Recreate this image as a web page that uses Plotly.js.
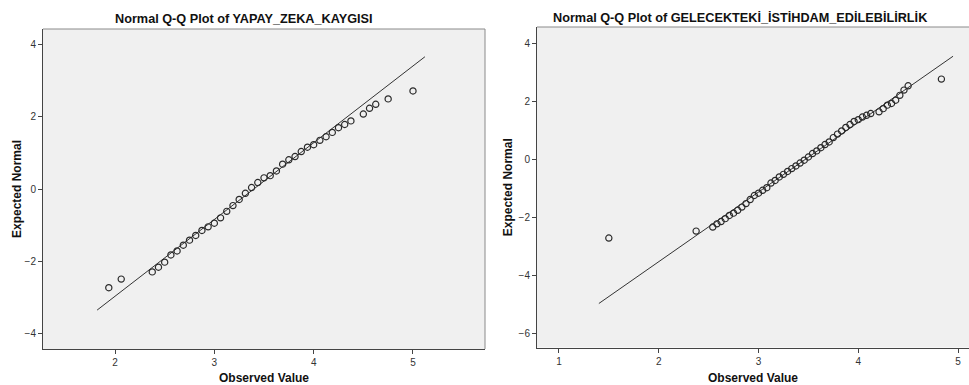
<!DOCTYPE html>
<html>
<head>
<meta charset="utf-8">
<script src="https://cdn.plot.ly/plotly-3.0.1.min.js"></script>
<style>html,body{margin:0;padding:0;background:#fff;}#chart{width:969px;height:385px;}</style>
</head>
<body>
<div id="chart"></div>
<script>
// Left panel: YAPAY_ZEKA_KAYGISI (observed values in sixteenths)
const leftObserved16 = [31,33,38,39,40,41,42,43,44,45,46,47,48,49,50,51,52,53,54,55,56,57,58,59,60,61,62,63,64,65,66,67,68,69,70,72,73,74,76,80];
const leftExpected = [-2.74,-2.50,-2.30,-2.17,-2.03,-1.83,-1.72,-1.56,-1.42,-1.29,-1.15,-1.05,-0.95,-0.80,-0.62,-0.46,-0.29,-0.12,0.04,0.18,0.31,0.37,0.50,0.69,0.81,0.90,1.04,1.16,1.23,1.35,1.45,1.57,1.70,1.79,1.89,2.08,2.24,2.35,2.50,2.72];
const leftLineX = [1.82, 5.12];
const leftLineY = [-3.36, 3.67];

// Right panel: GELECEKTEKİ_İSTİHDAM_EDİLEBİLİRLİK (observed values in 24ths)
const rightObserved24 = [36,57,61,62,63,64,65,66,67,68,69,70,71,72,73,74,75,76,77,78,79,80,81,82,83,84,85,86,87,88,89,90,91,92,93,94,95,96,97,98,99,101,102,103,104,105,106,107,108,116];
const rightExpected = [-2.72,-2.48,-2.34,-2.23,-2.15,-2.05,-1.94,-1.86,-1.76,-1.65,-1.53,-1.39,-1.25,-1.17,-1.07,-0.98,-0.82,-0.73,-0.61,-0.52,-0.42,-0.32,-0.23,-0.13,-0.03,0.08,0.20,0.29,0.40,0.51,0.60,0.75,0.87,0.98,1.10,1.20,1.31,1.37,1.46,1.52,1.58,1.64,1.75,1.87,1.93,2.04,2.21,2.39,2.54,2.77];
const rightLineX = [1.40, 4.95];
const rightLineY = [-4.98, 3.56];

const leftXTicks = [2,3,4,5];
const leftYTicks = [-4,-2,0,2,4];
const rightXTicks = [1,2,3,4,5];
const rightYTicks = [-6,-4,-2,0,2,4];

const titleLeft = "Normal Q-Q Plot of YAPAY_ZEKA_KAYGISI";
const titleRight = "Normal Q-Q Plot of GELECEKTEKİ_İSTİHDAM_EDİLEBİLİRLİK";
const xTitle = "Observed Value";
const yTitle = "Expected Normal";

const leftObserved = leftObserved16.map(v => v / 16);
const rightObserved = rightObserved24.map(v => v / 24);

const FONT = "Liberation Sans, Arial, sans-serif";
const marker = {symbol: 'circle-open', size: 6.2, color: '#2a2a2a', line: {width: 1.2, color: '#2a2a2a'}};
const lineStyle = {color: '#333', width: 1};

const traces = [
  {x: leftLineX, y: leftLineY, mode: 'lines', line: lineStyle, xaxis: 'x', yaxis: 'y', hoverinfo: 'skip', showlegend: false},
  {x: leftObserved, y: leftExpected, mode: 'markers', marker: marker, xaxis: 'x', yaxis: 'y', showlegend: false},
  {x: rightLineX, y: rightLineY, mode: 'lines', line: lineStyle, xaxis: 'x2', yaxis: 'y2', hoverinfo: 'skip', showlegend: false},
  {x: rightObserved, y: rightExpected, mode: 'markers', marker: marker, xaxis: 'x2', yaxis: 'y2', showlegend: false}
];

function axisBase(extra) {
  return Object.assign({
    showgrid: false, zeroline: false, showline: true, linecolor: '#444', linewidth: 1,
    ticks: 'outside', ticklen: 4, tickcolor: '#444', tickwidth: 1,
    tickfont: {family: FONT, size: 10, color: '#333'}, automargin: false, fixedrange: true
  }, extra);
}

const W = 969, H = 385;
const L = {x0: 43/W, x1: 485/W, y0: (H-349)/H, y1: (H-29)/H};
const R = {x0: 537/W, x1: 1, y0: (H-347.5)/H, y1: (H-27)/H};
const axisTitleFont = {family: FONT, size: 12, color: '#111', weight: 'bold'};
const titleFont = {family: FONT, size: 12.7, color: '#111', weight: 'bold'};

const layout = {
  width: W, height: H,
  margin: {l: 0, r: 0, t: 0, b: 0},
  paper_bgcolor: '#ffffff', plot_bgcolor: '#f0f0f0',
  showlegend: false,
  font: {family: FONT, color: '#222'},
  xaxis: axisBase({domain: [L.x0, L.x1], range: [1.275, 5.725], tickvals: leftXTicks, anchor: 'y',
    title: {text: xTitle, font: axisTitleFont, standoff: 8}}),
  yaxis: axisBase({domain: [L.y0, L.y1], range: [-4.44, 4.44], tickvals: leftYTicks, anchor: 'x',
    title: {text: yTitle, font: axisTitleFont, standoff: 0}}),
  xaxis2: axisBase({domain: [R.x0, R.x1], range: [0.78, 5.11], tickvals: rightXTicks, anchor: 'y2',
    title: {text: xTitle, font: axisTitleFont, standoff: 8}}),
  yaxis2: axisBase({domain: [R.y0, R.y1], range: [-6.5, 4.57], tickvals: rightYTicks, anchor: 'x2',
    title: {text: yTitle, font: axisTitleFont, standoff: 3}}),
  shapes: [
    {type: 'line', xref: 'paper', yref: 'paper', x0: L.x0, x1: L.x1, y0: L.y1, y1: L.y1, line: {color: '#8a8a8a', width: 1}},
    {type: 'line', xref: 'paper', yref: 'paper', x0: L.x1, x1: L.x1, y0: L.y0, y1: L.y1, line: {color: '#8a8a8a', width: 1}},
    {type: 'line', xref: 'paper', yref: 'paper', x0: R.x0, x1: R.x1, y0: R.y1, y1: R.y1, line: {color: '#8a8a8a', width: 1}}
  ],
  annotations: [
    {text: titleLeft, xref: 'paper', yref: 'paper', x: 244/W, y: (H-19)/H, xanchor: 'center', yanchor: 'middle', showarrow: false,
     font: titleFont},
    {text: titleRight, xref: 'paper', yref: 'paper', x: 740/W, y: (H-17)/H, xanchor: 'center', yanchor: 'middle', showarrow: false,
     font: titleFont}
  ]
};

Plotly.newPlot('chart', traces, layout, {staticPlot: true, displayModeBar: false});
</script>
</body>
</html>
